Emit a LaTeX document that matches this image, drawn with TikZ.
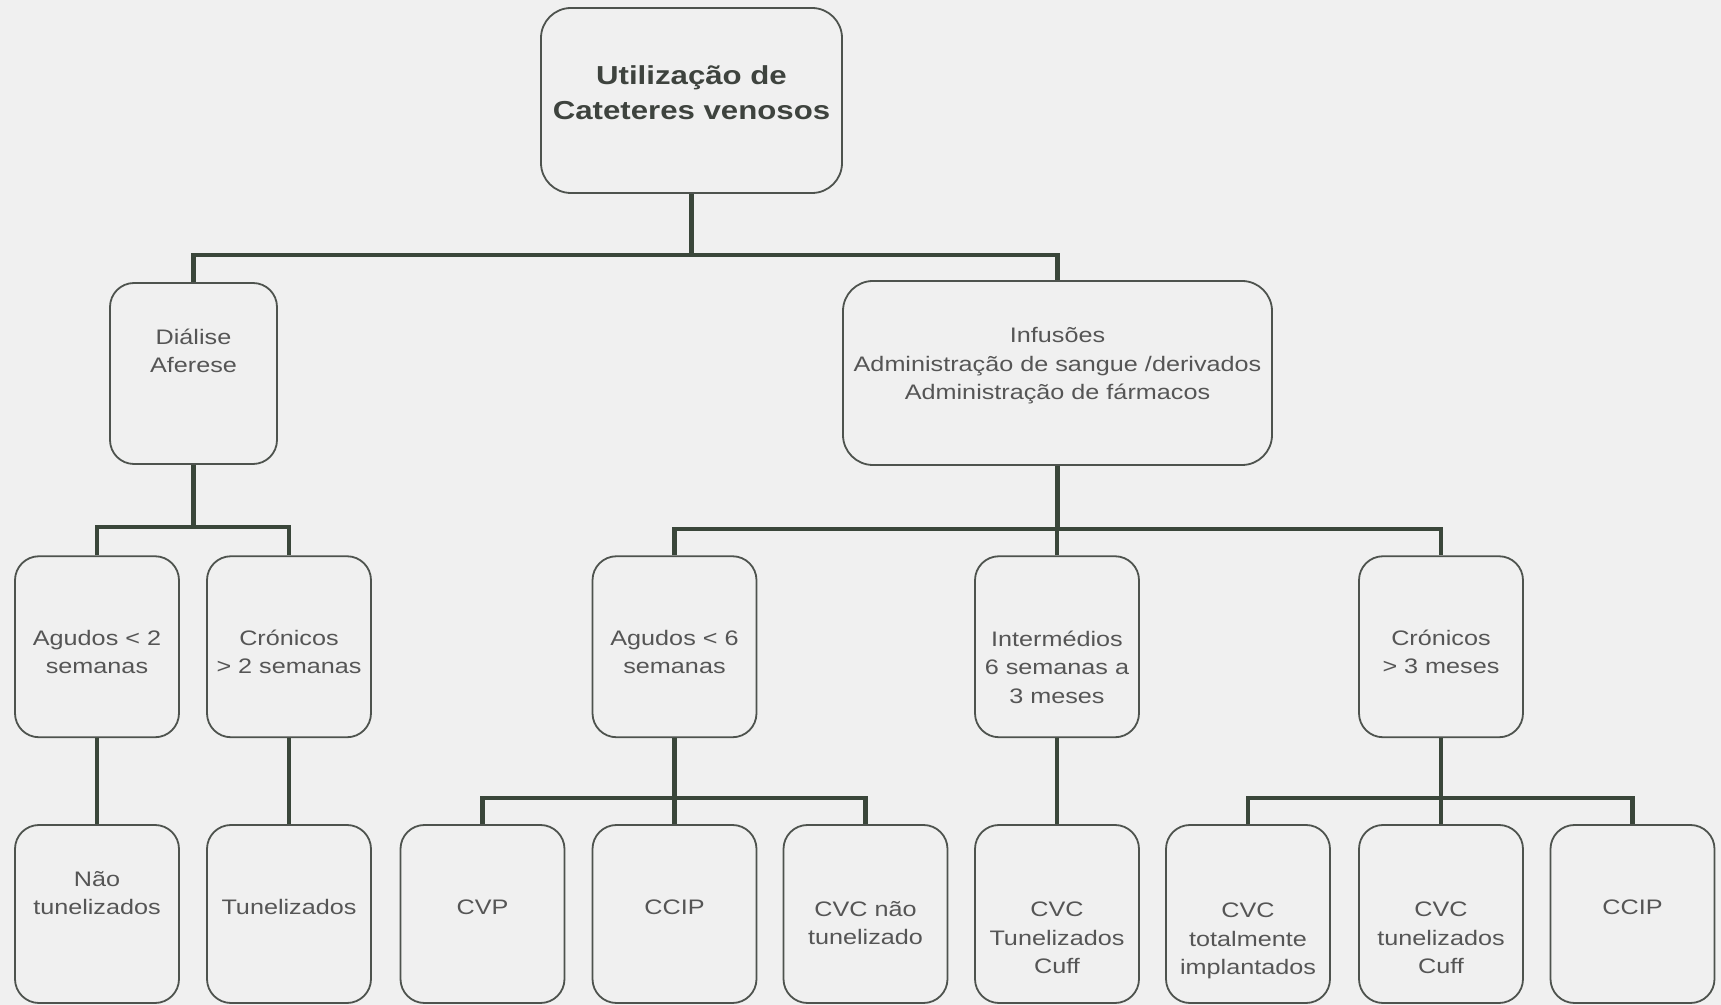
\documentclass[tikz,border=0pt]{standalone}
\usepackage{fontspec}
\setmainfont{Liberation Sans}[FakeStretch=1.2]
\definecolor{bgc}{HTML}{F0F0F0}
\definecolor{linec}{HTML}{3A463A}
\definecolor{boxc}{HTML}{4E534E}
\definecolor{txtc}{HTML}{555555}
\definecolor{ttlc}{HTML}{3E433E}
\tikzset{
  box/.style={draw=boxc, line width=0.9pt, rounded corners=12pt, inner sep=0pt,
    minimum width=82pt, minimum height=90.5pt},
  bigbox/.style={box, rounded corners=15pt},
  conn/.style={draw=linec, line width=2.3pt, line join=miter},
  txt/.style={text=txtc, align=center, inner sep=0pt,
    font=\fontsize{10.5}{14.3}\selectfont},
  ttl/.style={text=ttlc, align=center, inner sep=0pt,
    font=\fontsize{13}{17.5}\selectfont\bfseries}
}
\begin{document}
\begin{tikzpicture}[x=0.5pt, y=-0.5pt]
\fill[bgc] (0,0) rectangle (1721,1005);
\useasboundingbox (0,0) rectangle (1721,1005);

% level 0
\node[bigbox, minimum width=150.5pt, minimum height=92.5pt] (top) at (691.5,100.5) {};
\node[ttl] (ttop) at (691.5,93) {Utilização de\\Cateteres venosos};

% level 1
\node[box, minimum width=83.5pt] (dia) at (193.5,373.5) {};
\node[txt] (tdia) at (193.5,351) {Diálise\\Aferese};
\node[bigbox, minimum width=214.5pt, minimum height=92pt] (inf) at (1057.5,373) {};
\node[txt] (tinf) at (1057.5,366) {Infusões\\Administração de sangue /derivados\\Administração de fármacos};

% level 2
\node[box] (ag2) at (97,646.75) {};
\node[txt] (tag2) at (97,652) {Agudos < 2\\semanas};
\node[box] (cr2) at (289,646.75) {};
\node[txt] (tcr2) at (289,652) {Crónicos\\> 2 semanas};
\node[box] (ag6) at (674.5,646.75) {};
\node[txt] (tag6) at (674.5,652) {Agudos < 6\\semanas};
\node[box] (int) at (1057,646.75) {};
\node[txt] (tint) at (1057,667) {Intermédios\\6 semanas a\\3 meses};
\node[box] (cr3) at (1441,646.75) {};
\node[txt] (tcr3) at (1441,652) {Crónicos\\> 3 meses};

% level 3
\node[box, minimum height=89pt] (b1) at (97,914) {};
\node[txt] (tb1) at (97,893) {Não\\tunelizados};
\node[box, minimum height=89pt] (b2) at (289,914) {};
\node[txt] (tb2) at (289,907) {Tunelizados};
\node[box, minimum height=89pt] (b3) at (482.5,914) {};
\node[txt] (tb3) at (482.5,907) {CVP};
\node[box, minimum height=89pt] (b4) at (674.5,914) {};
\node[txt] (tb4) at (674.5,907) {CCIP};
\node[box, minimum height=89pt] (b5) at (865.5,914) {};
\node[txt] (tb5) at (865.5,923) {CVC não\\tunelizado};
\node[box, minimum height=89pt] (b6) at (1057,914) {};
\node[txt] (tb6) at (1057,938) {CVC\\Tunelizados\\Cuff};
\node[box, minimum height=89pt] (b7) at (1248,914) {};
\node[txt] (tb7) at (1248,941) {CVC\\totalmente\\implantados};
\node[box, minimum height=89pt] (b8) at (1441,914) {};
\node[txt] (tb8) at (1441,938) {CVC\\tunelizados\\Cuff};
\node[box, minimum height=89pt] (b9) at (1632.5,914) {};
\node[txt] (tb9) at (1632.5,907) {CCIP};

% junctions
\coordinate (j0) at (691.5,255);
\coordinate (j1) at (193.5,527);
\coordinate (j2) at (1057.5,529);
\coordinate (j3) at (674.5,798);
\coordinate (j4) at (1441,798);

% connectors
\draw[conn] (top.south) -- (j0);
\draw[conn] (dia.north) |- (j0) -| (inf.north);
\draw[conn] (dia.south) -- (j1);
\draw[conn] (ag2.north) |- (j1) -| (cr2.north);
\draw[conn] (inf.south) -- (j2);
\draw[conn] (ag6.north) |- (j2) -| (cr3.north);
\draw[conn] (int.north) -- (int.north |- j2);
\draw[conn] (ag2.south) -- (b1.north);
\draw[conn] (cr2.south) -- (b2.north);
\draw[conn] (ag6.south) -- (j3);
\draw[conn] (b3.north) |- (j3) -| (b5.north);
\draw[conn] (j3) -- (b4.north);
\draw[conn] (int.south) -- (b6.north);
\draw[conn] (cr3.south) -- (j4);
\draw[conn] (b7.north) |- (j4) -| (b9.north);
\draw[conn] (j4) -- (b8.north);
\end{tikzpicture}
\end{document}
